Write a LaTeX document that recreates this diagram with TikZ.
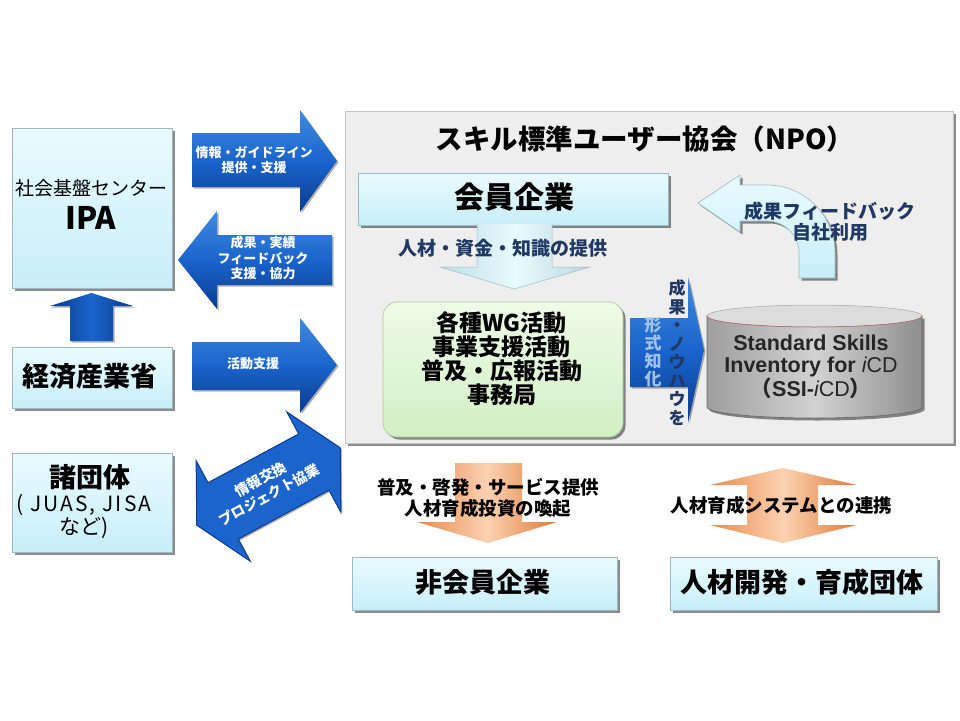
\documentclass[tikz,border=0pt]{standalone}
\usepackage{fontspec}
\setmainfont{Noto Sans CJK JP}
\newfontfamily\latf{Liberation Sans}
\newfontfamily\jpf{Noto Sans CJK JP}
\usetikzlibrary{shadows}
\newcommand\fsz[2]{\fontsize{#1pt}{#2pt}\selectfont}
\definecolor{cyantop}{HTML}{E9FBFF}
\definecolor{cyanbot}{HTML}{C8EEF8}
\definecolor{cyanline}{HTML}{9DBAC4}
\definecolor{npofill}{HTML}{EEEEEE}
\definecolor{npoline}{HTML}{C4C4C4}
\definecolor{greentop}{HTML}{EEFBE8}
\definecolor{greenbot}{HTML}{D2EFC4}
\definecolor{greenline}{HTML}{A9C79A}
\definecolor{bluetop}{HTML}{3F8BE0}
\definecolor{bluemid}{HTML}{1A64CC}
\definecolor{bluebot}{HTML}{0B3C8E}
\definecolor{orgedge}{HTML}{E98A4C}
\definecolor{orgedgeb}{HTML}{DD7A36}
\definecolor{orgmid}{HTML}{FBD2B2}
\definecolor{navytxt}{HTML}{1F3864}
\definecolor{lbluetxt}{HTML}{A3C2EA}
\definecolor{cylmid}{HTML}{D2D2D2}
\definecolor{cyledge}{HTML}{9E9E9E}
\definecolor{cyltopc}{HTML}{DCDCDC}
\definecolor{rimred}{HTML}{B05A5A}
\tikzset{
  shadowed/.style={drop shadow={shadow xshift=2.5pt, shadow yshift=-2.5pt, fill=black, opacity=.45}},
  lightshadow/.style={drop shadow={shadow xshift=1.5pt, shadow yshift=-1.5pt, fill=black, opacity=.3}},
  cbox/.style={draw=cyanline, line width=0.6pt, top color=cyantop, bottom color=cyanbot, inner sep=0pt, shadowed},
  npobox/.style={draw=npoline, line width=0.6pt, fill=npofill, inner sep=0pt, shadowed},
  gbox/.style={draw=greenline, line width=0.6pt, top color=greentop, bottom color=greenbot, inner sep=0pt, rounded corners=14pt, shadowed},
  blueh/.style={top color=bluetop, bottom color=bluebot, middle color=bluemid, lightshadow},
  bluediag/.style={fill=bluemid, draw=bluebot, line width=1pt, lightshadow},
  bluev/.style={left color=bluebot, right color=bluebot, middle color=bluemid, lightshadow},
  cyanarrow/.style={left color=cyanbot!85!gray, right color=cyanbot!80!gray, middle color=cyantop},
  orgarrow/.style={left color=orgedge, right color=orgedgeb, middle color=orgmid},
  wtxt/.style={text=white, font=\bfseries\fsz{13}{15.5}, align=center, inner sep=0pt},
  ntxt/.style={text=navytxt, font=\bfseries\fsz{19}{21}, align=center, inner sep=0pt},
  ktxt/.style={text=black, font=\bfseries\fsz{18.5}{21}, align=center, inner sep=0pt},
  bigtxt/.style={text=black, font=\bfseries\fsz{27}{30}, align=center, inner sep=0pt}
}
\begin{document}
\begin{tikzpicture}[x=1pt,y=-1pt]
\useasboundingbox[fill=white] (0,0) rectangle (960,720);

% ---------- left column boxes ----------
\node[cbox, minimum width=160pt, minimum height=160pt] (ipa) at (92,208) {};
\node[font=\fsz{19}{22}, inner sep=0pt] (ipa1) at (91,188) {社会基盤センター};
\node[font=\bfseries\fsz{31}{34}, inner sep=0pt] (ipa2) at (91,218) {IPA};

\node[cbox, minimum width=160pt, minimum height=61pt] (meti) at (92,377.5) {};
\node[bigtxt] (metit) at (90,376) {経済産業省};

\node[cbox, minimum width=160pt, minimum height=99pt] (dantai) at (92,502.5) {};
\node[bigtxt] (dantai1) at (90,477) {諸団体};
\node[font=\fsz{21}{24}\addfontfeature{LetterSpace=10}, inner sep=0pt] (dantai2) at (84,505) {( JUAS, JISA};
\node[font=\fsz{21}{24}, inner sep=0pt] (dantai3) at (84,528) {など)};

% up arrow METI -> IPA
\path[bluev] (70,341) -- (70,306) -- (50,306) -- (91.5,293) -- (133,306) -- (113,306) -- (113,341) -- cycle;

% ---------- NPO box ----------
\node[npobox, minimum width=608pt, minimum height=332pt] (npo) at (649,277) {};
\node[font=\bfseries\fsz{27.5}{30}, inner sep=0pt] (npot) at (645,139) {スキル標準ユーザー協会（NPO）};

% left horizontal arrows
\path[blueh] (192,133) -- (300,133) -- (300,110) -- (337,161) -- (300,212) -- (300,187) -- (192,187) -- cycle;
\node[wtxt] (a1t) at (254,160) {情報・ガイドライン\\提供・支援};

\path[blueh] (332,235) -- (217,235) -- (217,211) -- (178,260) -- (217,309) -- (217,285) -- (332,285) -- cycle;
\node[wtxt] (a2t) at (263,258) {成果・実績\\フィードバック\\支援・協力};

\path[blueh] (192,342) -- (300,342) -- (300,318) -- (337,365) -- (300,413) -- (300,390) -- (192,390) -- cycle;
\node[wtxt] (a3t) at (253,364) {活動支援};

% diagonal double arrow
\begin{scope}[shift={(268.5,486.5)}, rotate=28.3]
  \path[bluediag] (-81.5,0) -- (-51.5,-57) -- (-51.5,-32) -- (51.5,-32) -- (51.5,-57) -- (81.5,0) -- (51.5,57) -- (51.5,32) -- (-51.5,32) -- (-51.5,57) -- cycle;
\end{scope}
\node[wtxt, font=\bfseries\fsz{14}{18}, rotate=28.3] (diagt) at (265,487) {情報交換\\プロジェクト協業};

% ---------- member companies ----------
\node[cbox, minimum width=310pt, minimum height=52pt] (kaiin) at (513,199) {};
\node[font=\bfseries\fsz{30}{33}, inner sep=0pt] (kaiint) at (514,197) {会員企業};

% cyan down arrow
\path[cyanarrow] (477,224) -- (477,267) -- (440,267) -- (514,289) -- (590,267) -- (552,267) -- (552,224) -- cycle;
\draw[cyanline, line width=0.5pt] (477,224) -- (477,267) -- (440,267) -- (514,289) -- (590,267) -- (552,267) -- (552,224);
\node[ntxt] (kaiina) at (503,248) {人材・資金・知識の提供};

% green activity box
\node[gbox, minimum width=240pt, minimum height=135pt] (wg) at (503,369.5) {};
\node[font=\bfseries\fsz{23}{24}, align=center, inner sep=0pt] (wgt) at (501.5,359) {各種WG活動\\事業支援活動\\普及・広報活動\\事務局};

% curved feedback arrow
\path[top color=cyantop, bottom color=cyanbot, draw=cyanline, line width=0.6pt, shadowed]
  (799,278) -- (835,278) -- (835,253)
  arc[start angle=0, end angle=90, radius=68pt]
  -- (740,185) -- (740,175) -- (698,203) -- (740,232) -- (740,221) -- (767,221)
  arc[start angle=90, end angle=0, radius=32pt]
  -- cycle;
\node[ntxt] (fbt) at (830,222) {成果フィードバック\\自社利用};

% cylinder
\path[left color=cyledge, right color=cyledge!90!black, middle color=cylmid, draw=gray!80!black, line width=0.6pt, shadowed]
  (707,316) -- (707,407) arc[start angle=180, end angle=360, x radius=107.5pt, y radius=11pt] -- (922,316) -- cycle;
\path[fill=cyltopc, draw=gray!70, line width=0.5pt] (814.5,316) ellipse[x radius=107.5pt, y radius=11pt];
\draw[rimred, line width=0.5pt] (707,316) arc[start angle=180, end angle=360, x radius=107.5pt, y radius=11pt];
\node[text=black!85, font=\latf\bfseries\fsz{21.5}{21.5}, align=center, inner sep=0pt] (ssi) at (811,367)
  {Standard Skills\\Inventory for {\mdseries\itshape i}{\mdseries CD}\\{\jpf\bfseries （}SSI-{\mdseries\itshape i}{\mdseries CD}{\jpf\bfseries ）}};

% form-knowledge arrow
\path[blueh] (630,318) -- (688,318) -- (688,277) -- (704,350) -- (688,423) -- (688,387) -- (630,387) -- cycle;
\node[text=lbluetxt, font=\bfseries\fsz{17}{18}, align=center, inner sep=0pt] (vt2) at (653,352) {形\\式\\知\\化};
\node[text=navytxt, font=\bfseries\fsz{17}{18.5}, align=center, inner sep=0pt] (vt1) at (677,352.7) {成\\果\\・\\ノ\\ウ\\ハ\\ウ\\を};

% ---------- bottom ----------
\path[orgarrow] (455,463) -- (522,463) -- (522,522) -- (557,522) -- (488,543) -- (417,522) -- (455,522) -- cycle;
\node[ktxt] (o1t) at (488,497.5) {普及・啓発・サービス提供\\人材育成投資の喚起};

\path[orgarrow] (747,485) -- (710,485) -- (783,468) -- (857,485) -- (818,485) -- (818,525) -- (857,525) -- (783,543) -- (710,525) -- (747,525) -- cycle;
\node[ktxt] (o2t) at (781.5,505) {人材育成システムとの連携};

\node[cbox, minimum width=265pt, minimum height=53pt] (hikaiin) at (484.5,583.5) {};
\node[bigtxt] (hikaiint) at (483,582) {非会員企業};

\node[cbox, minimum width=267pt, minimum height=53pt] (jinzai) at (803.5,583.5) {};
\node[bigtxt] (jinzait) at (802,582) {人材開発・育成団体};
\end{tikzpicture}
\end{document}
